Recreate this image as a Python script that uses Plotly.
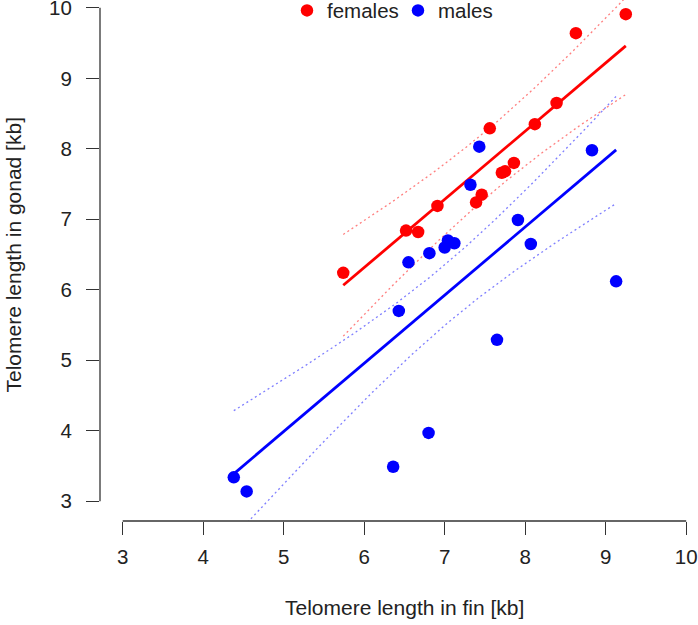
import numpy as np
import plotly.graph_objects as go

# ---- data ----
fem_fin = [5.74, 6.52, 6.67, 6.91, 7.39, 7.46, 7.56, 7.71, 7.75, 7.86, 8.12, 8.39, 8.63, 9.25]
fem_gonad = [6.24, 6.84, 6.82, 7.19, 7.24, 7.35, 8.29, 7.66, 7.68, 7.80, 8.35, 8.65, 9.64, 9.91]

male_fin = [4.38, 4.54, 6.36, 6.80, 7.65, 9.13, 6.43, 6.55, 6.81, 7.00, 7.04, 7.12, 7.32, 7.43, 7.91, 8.07, 8.83]
male_gonad = [3.34, 3.14, 3.49, 3.97, 5.29, 6.12, 5.70, 6.39, 6.52, 6.60, 6.70, 6.66, 7.49, 8.03, 6.99, 6.65, 7.98]

tick_vals = [3, 4, 5, 6, 7, 8, 9, 10]
series_names = ["females", "males"]
series_colors = ["#FF0000", "#0000FF"]
band_colors = ["rgba(255,0,0,0.5)", "rgba(0,0,255,0.5)"]

# two-sided 95% t quantiles by degrees of freedom
T975 = {25: 2.0595, 26: 2.0555, 27: 2.0518, 28: 2.0484, 29: 2.0452, 30: 2.0423,
        31: 2.0395, 32: 2.0369}

FONT = "Liberation Sans, Arial, sans-serif"
FS = 20.5

# ---- ANCOVA fit: gonad ~ sex + fin (common slope) ----
groups = [(np.asarray(fem_fin, float), np.asarray(fem_gonad, float)),
          (np.asarray(male_fin, float), np.asarray(male_gonad, float))]
rows, ys = [], []
for gi, (gx, gy) in enumerate(groups):
    for xv, yv in zip(gx, gy):
        r = [0.0, 0.0, xv]
        r[gi] = 1.0
        rows.append(r)
        ys.append(yv)
X = np.array(rows)
Y = np.array(ys)
beta, *_ = np.linalg.lstsq(X, Y, rcond=None)
N = len(Y)
dfree = N - 3
s2 = np.sum((Y - X @ beta) ** 2) / dfree
cov = s2 * np.linalg.inv(X.T @ X)
tq = T975[dfree]

fig = go.Figure()

for gi, (gx, gy) in enumerate(groups):
    xs = np.linspace(gx.min(), gx.max(), 120)
    V = np.zeros((len(xs), 3))
    V[:, gi] = 1.0
    V[:, 2] = xs
    fit = V @ beta
    half = tq * np.sqrt(np.einsum("ij,jk,ik->i", V, cov, V))
    for yy in (fit + half, fit - half):
        fig.add_trace(go.Scatter(x=xs, y=yy, mode="lines", showlegend=False,
                                 hoverinfo="skip",
                                 line=dict(color=band_colors[gi], width=1.3, dash="2px,3px")))
    fig.add_trace(go.Scatter(x=xs, y=fit, mode="lines", showlegend=False,
                             line=dict(color=series_colors[gi], width=2.8)))

legend_ids = ["legend", "legend2"]
for gi, (gx, gy) in enumerate(groups):
    fig.add_trace(go.Scatter(x=gx, y=gy, mode="markers", name=series_names[gi],
                             legend=legend_ids[gi],
                             marker=dict(color=series_colors[gi], size=12.5,
                                         line=dict(width=0))))

axcol = "#333333"
# R-style axis lines spanning only the tick range
fig.add_shape(type="line", xref="x", yref="paper", x0=tick_vals[0], x1=tick_vals[-1],
              y0=0, y1=0, line=dict(color=axcol, width=1.3))
fig.add_shape(type="line", xref="paper", yref="y", x0=0, x1=0, y0=tick_vals[0],
              y1=tick_vals[-1], line=dict(color=axcol, width=1.3))

leg_common = dict(orientation="h", xanchor="left", y=1.018, yanchor="top",
                  font=dict(size=FS, family=FONT, color="#222222"),
                  bgcolor="rgba(0,0,0,0)", itemwidth=30)

fig.update_layout(
    width=698, height=625,
    margin=dict(l=100, r=0, t=0, b=104, autoexpand=False),
    paper_bgcolor="white", plot_bgcolor="white",
    font=dict(family=FONT, size=FS, color="#222222"),
    showlegend=True,
    legend=dict(x=(287 - 100) / 598, **leg_common),
    legend2=dict(x=(398 - 100) / 598, **leg_common),
    xaxis=dict(range=[2.718, 10.147], tickvals=tick_vals, ticks="outside", ticklen=13,
               tickcolor=axcol, tickwidth=1.3, showgrid=False, zeroline=False,
               showline=False, ticklabelstandoff=4, ticklabeloverflow="allow",
               automargin=False, tickfont=dict(size=FS)),
    yaxis=dict(range=[2.72, 10.111], tickvals=tick_vals, ticks="outside", ticklen=13,
               tickcolor=axcol, tickwidth=1.3, showgrid=False, zeroline=False,
               showline=False, ticklabelstandoff=10, ticklabeloverflow="allow",
               automargin=False, tickfont=dict(size=FS)),
    annotations=[
        dict(text="Telomere length in fin [kb]", xref="x", yref="paper", x=6.5,
             y=(521 - 607) / 521, xanchor="center", yanchor="middle",
             showarrow=False, font=dict(size=21)),
        dict(text="Telomere length in gonad [kb]", xref="paper", yref="y",
             x=(14 - 100) / 598, y=6.5, xanchor="center", yanchor="middle",
             textangle=-90, showarrow=False, font=dict(size=21)),
    ],
)

fig.write_html("out.html")
